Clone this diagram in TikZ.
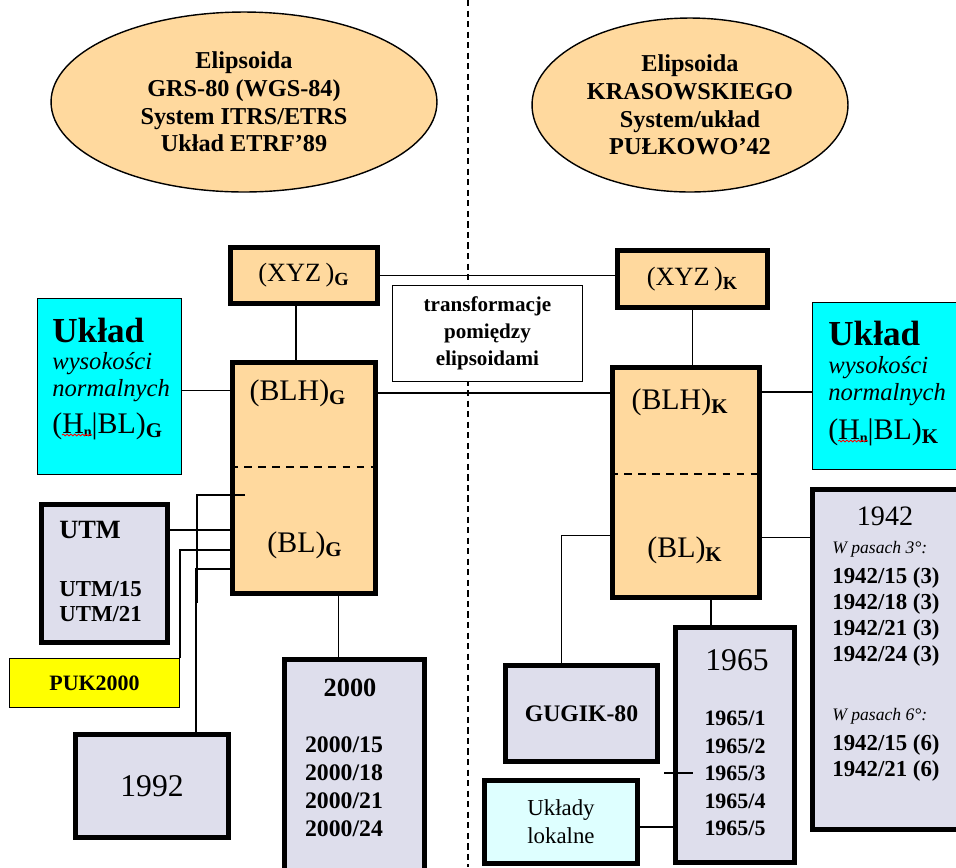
\documentclass[tikz,border=0pt]{standalone}
\usepackage{fontspec}
\setmainfont{Liberation Serif}
\usetikzlibrary{shapes.geometric,calc,decorations.pathmorphing}
\usepackage{xcolor}

\definecolor{peach}{RGB}{255,217,158}
\definecolor{aqua}{RGB}{0,255,255}
\definecolor{lavgrey}{RGB}{222,222,236}
\definecolor{paleaqua}{RGB}{222,255,255}
\definecolor{lemon}{RGB}{255,255,0}

\newcommand{\fsz}[2]{\fontsize{#1}{#2}\selectfont}

\begin{document}
\begin{tikzpicture}[%
    x=0.02cm, y=-0.02cm,
    ellipsoid/.style={
      ellipse,
      draw,
      line width=0.8pt,
      fill=peach,
      align=center,
      font=\fsz{13.8}{15.8}\bfseries
    },
    coordBox/.style={
      rectangle,
      draw,
      line width=2.8pt,
      fill=peach,
      inner sep=0pt
    },
    gridBox/.style={
      rectangle,
      draw,
      line width=2.8pt,
      fill=lavgrey,
      inner sep=0pt
    },
    thinBox/.style={
      rectangle,
      draw,
      line width=0.6pt,
      inner sep=0pt
    },
    txt/.style={inner sep=0pt},
    link/.style={line width=0.8pt},
    cut/.style={line width=0.9pt, dash pattern=on 4.5pt off 3.5pt},
    squiggle/.style={red, line width=0.5pt, decorate,
      decoration={snake, amplitude=0.5pt, segment length=2.2pt}}
  ]

    \useasboundingbox (0,0) rectangle (956,867);

    % Divider between the two ellipsoids
    \coordinate (divTop) at (468,0);
    \coordinate (divBot) at (468,867);
    \draw[line width=0.9pt, dash pattern=on 3.5pt off 2.5pt] (divTop) -- (divBot);

    % Ellipsoids
    \node[ellipsoid, minimum width=7.72cm, minimum height=3.6cm] (elG) at (244,102)
      {Elipsoida\\GRS-80 (WGS-84)\\System ITRS/ETRS\\Układ ETRF’89};
    \node[ellipsoid, minimum width=6.32cm, minimum height=3.48cm] (elK) at (690,105)
      {Elipsoida\\KRASOWSKIEGO\\System/układ\\PUŁKOWO’42};

    % Transformation note
    \node[thinBox, fill=white, minimum width=3.8cm, minimum height=1.92cm,
          align=center, font=\fsz{12}{15.5}\bfseries] (trans) at (487.5,333.5)
      {transformacje\\pomiędzy\\elipsoidami};

    % Geocentric / geodetic coordinates
    \node[coordBox, minimum width=2.94cm, minimum height=1.12cm, font=\fsz{15}{17}] (xyzG) at (304,275.5)
      {(XYZ\,)\textsubscript{\bfseries G}};
    \node[coordBox, minimum width=3.0cm, minimum height=1.14cm, font=\fsz{15}{17}] (xyzK) at (692.5,279)
      {(XYZ\,)\textsubscript{\bfseries K}};
    \node[coordBox, minimum width=2.86cm, minimum height=4.62cm] (blhG) at (304,478) {};
    \node[coordBox, minimum width=2.94cm, minimum height=4.6cm] (blhK) at (686,482.5) {};

    \node[txt, font=\fsz{17}{20}] (tBLHG) at (298,393) {(BLH)\textsubscript{\bfseries G}};
    \node[txt, font=\fsz{17}{20}] (tBLG)  at (305,545) {(BL)\textsubscript{\bfseries G}};
    \node[txt, font=\fsz{17}{20}] (tBLHK) at (680,402) {(BLH)\textsubscript{\bfseries K}};
    \node[txt, font=\fsz{17}{20}] (tBLK)  at (685,550) {(BL)\textsubscript{\bfseries K}};

    \draw[cut] ($(blhG.west)+(0,-11)$) -- ($(blhG.east)+(0,-11)$);
    \draw[cut] ($(blhK.west)+(0,-8.5)$) -- ($(blhK.east)+(0,-8.5)$);

    % Height systems
    \node[thinBox, fill=aqua, minimum width=2.88cm, minimum height=3.52cm] (hG) at (109.5,386.5) {};
    \node[txt, anchor=west, font=\fsz{20}{22}\bfseries] (tUkladG) at (52,330) {Układ};
    \node[txt, anchor=west, align=left, font=\fsz{14}{15.3}\itshape] (tWysG) at (52,377) {wysokości\\normalnych};
    \node[txt, anchor=west, font=\fsz{17}{20}] (tHnG) at (52,426)
      {(H\raisebox{-2pt}{\fsz{8}{8}\bfseries n}|BL)\textsubscript{\bfseries G}};
    \draw[squiggle] ($(tHnG.west)+(10,9)$) -- ++(30,0);

    \node[thinBox, fill=aqua, minimum width=3.2cm, minimum height=3.34cm] (hK) at (892,386) {};
    \node[txt, anchor=west, font=\fsz{20}{22}\bfseries] (tUkladK) at (828,333) {Układ};
    \node[txt, anchor=west, align=left, font=\fsz{14}{15.3}\itshape] (tWysK) at (828,381) {wysokości\\normalnych};
    \node[txt, anchor=west, font=\fsz{17}{20}] (tHnK) at (828,432)
      {(H\raisebox{-2pt}{\fsz{8}{8}\bfseries n}|BL)\textsubscript{\bfseries K}};
    \draw[squiggle] ($(tHnK.west)+(10,9)$) -- ++(30,0);

    % Grid systems, GRS-80 side
    \node[gridBox, minimum width=2.52cm, minimum height=2.76cm] (utm) at (104.5,573.5) {};
    \node[txt, anchor=west, font=\fsz{15}{17}\bfseries] (tUTM) at (59,530) {UTM};
    \node[txt, anchor=west, align=left, font=\fsz{13}{14.2}\bfseries] (tUTMzones) at (59,602) {UTM/15\\UTM/21};

    \node[thinBox, fill=lemon, minimum width=3.4cm, minimum height=0.98cm,
          font=\fsz{12.5}{14}\bfseries] (puk) at (94.5,683) {PUK2000};

    \node[gridBox, minimum width=3.06cm, minimum height=2.06cm, font=\fsz{18}{20}] (s1992) at (152,786) {1992};

    \node[gridBox, minimum width=2.8cm, minimum height=4.5cm] (s2000) at (354.5,772) {};
    \node[txt, font=\fsz{15}{17}\bfseries] (t2000) at (350,688) {2000};
    \node[txt, align=center, font=\fsz{13.5}{15.9}\bfseries] (t2000zones) at (344,787)
      {2000/15\\2000/18\\2000/21\\2000/24};

    % Grid systems, Krasowski side
    \node[gridBox, minimum width=3.04cm, minimum height=1.92cm, font=\fsz{13.5}{16}\bfseries] (gugik) at (581.5,713.5) {GUGIK-80};

    \node[gridBox, minimum width=2.38cm, minimum height=4.7cm] (s1965) at (735,745) {};
    \node[txt, font=\fsz{18}{20}] (t1965) at (737,660) {1965};
    \node[txt, align=center, font=\fsz{12.5}{15.7}\bfseries] (t1965zones) at (735,773.5)
      {1965/1\\1965/2\\1965/3\\1965/4\\1965/5};

    \node[rectangle, draw, line width=2.8pt, fill=paleaqua, minimum width=3.06cm, minimum height=1.66cm,
          align=center, font=\fsz{13}{16}] (lokalne) at (561,822) {Układy\\lokalne};

    \node[gridBox, minimum width=3.1cm, minimum height=6.8cm] (s1942) at (890,659.5) {};
    \node[txt, font=\fsz{16}{18}] (t1942) at (885,516) {1942};
    \node[txt, anchor=west, font=\fsz{10}{12}\itshape] (tPas3) at (832,549) {W pasach 3°:};
    \node[txt, anchor=west, align=left, font=\fsz{13}{14.7}\bfseries] (tPas3zones) at (832,617)
      {1942/15 (3)\\1942/18 (3)\\1942/21 (3)\\1942/24 (3)};
    \node[txt, anchor=west, font=\fsz{10}{12}\itshape] (tPas6) at (832,716) {W pasach 6°:};
    \node[txt, anchor=west, align=left, font=\fsz{13}{14.7}\bfseries] (tPas6zones) at (832,758)
      {1942/15 (6)\\1942/21 (6)};

    % Links between ellipsoids
    \draw[link] (xyzG.east) -- (xyzG.east -| xyzK.west);
    \draw[link] (blhG.east |- tBLHG) -- (blhK.west |- tBLHG);

    % Links inside each column
    \draw[link] ($(xyzG.south)+(-8,0)$) coordinate (kXYZG) -- (kXYZG |- blhG.north);
    \draw[link] (xyzK.south) -- (xyzK.south |- blhK.north);
    \draw[link] ($(hG.east)+(0,4)$) coordinate (kHG) -- (kHG -| blhG.west);
    \draw[link] ($(hK.west)+(0,6)$) coordinate (kHK) -- (kHK -| blhK.east);

    % Left side
    \draw[line width=1.2pt] ($(blhG.west)+(15,17)$) -| ($(blhG.west)+(-33,125)$);
    \draw[link] (tUTM -| utm.east) -- (tUTM -| blhG.west);
    \draw[link] (puk.north east) |- ($(blhG.west)+(0,72)$);
    \draw[link] ($(s1992.north)+(44,0)$) |- ($(blhG.west)+(0,91)$);
    \draw[link] ($(s2000.north)+(-16,0)$) coordinate (k2000) -- (k2000 |- blhG.south);

    % Right side
    \draw[link] ($(gugik.north)+(-20,0)$) |- ($(blhK.west)+(0,53)$);
    \draw[link] ($(blhK.east)+(0,55)$) coordinate (k1942) -- (k1942 -| s1942.west);
    \draw[link] ($(s1965.north)+(-24,0)$) coordinate (k1965) -- (k1965 |- blhK.south);
    \draw[link] ($(lokalne.east)+(0,5)$) coordinate (kLok) -- (kLok -| s1965.west);
    \draw[link] ($(s1965.west)+(-9,28)$) -- ++(29,0);
\end{tikzpicture}
\end{document}
